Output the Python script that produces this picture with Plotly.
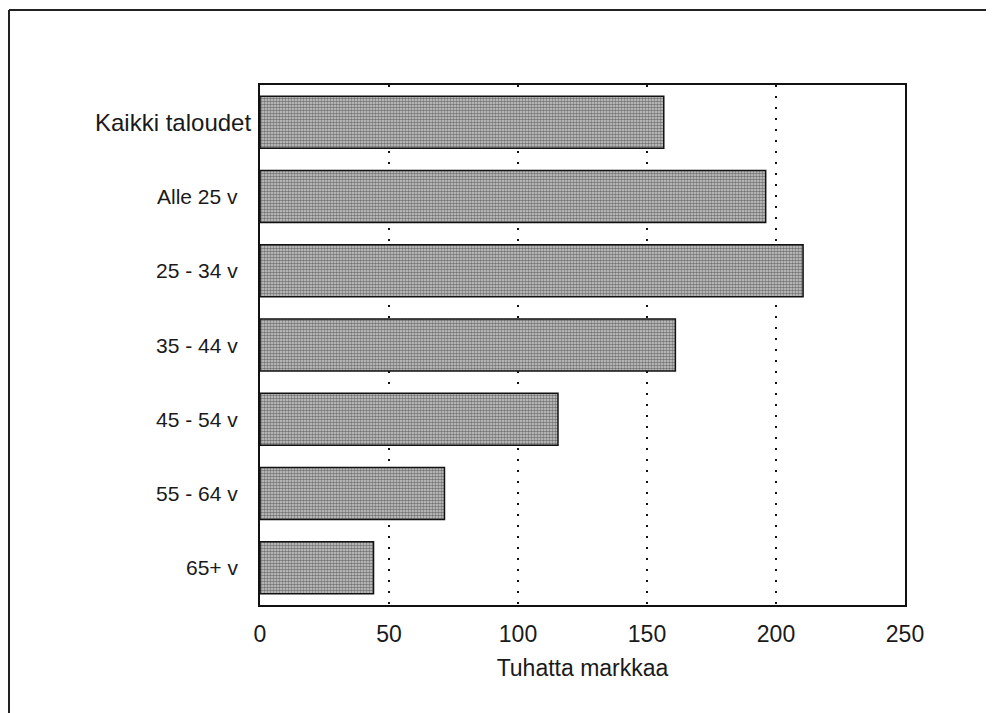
import plotly.graph_objects as go

categories = ["Kaikki taloudet", "Alle 25 v", "25 - 34 v", "35 - 44 v", "45 - 54 v", "55 - 64 v", "65+ v"]
values = [156.5, 196, 210.5, 161, 115.5, 71.5, 44]
x_ticks = [0, 50, 100, 150, 200, 250]
x_title = "Tuhatta markkaa"

# page body has an 8px margin, so the figure starts at (8, 8) in the window
W, H = 986, 705
L, R, T, B = 252, 89, 77, 108
pw, ph = W - L - R, H - T - B

FONT = "Liberation Sans, Arial, sans-serif"

fig = go.Figure()
fig.add_trace(go.Bar(
    y=categories, x=values, orientation="h", width=0.7,
    marker=dict(
        color="#c8c8c8",
        line=dict(color="#111", width=1.5),
        pattern=dict(shape=".", fgcolor="#1a1a1a", bgcolor="#cfcfcf", size=3, solidity=0.6),
    ),
    showlegend=False, hoverinfo="x+y",
))

# category labels as annotations (different gaps like the reference)
for i, c in enumerate(categories):
    big = (i == 0)
    fig.add_annotation(
        x=0, xref="paper", y=c, yref="y", text=c, showarrow=False,
        xanchor="right", yanchor="middle",
        xshift=-7 if big else -20,
        font=dict(family=FONT, size=24 if big else 21, color="#1a1a1a"),
    )

fig.update_xaxes(
    range=[0, 250], tickvals=x_ticks, ticktext=[str(v) for v in x_ticks],
    showgrid=True, gridcolor="#111", gridwidth=1.5, griddash="2px,9px",
    showline=True, mirror=True, linecolor="#111", linewidth=1.5,
    ticks="", ticklabelstandoff=8, zeroline=False,
    tickfont=dict(family=FONT, size=23, color="#1a1a1a"),
    title=dict(text=x_title, font=dict(family=FONT, size=23, color="#1a1a1a"), standoff=14),
)
fig.update_yaxes(
    categoryorder="array", categoryarray=categories, autorange="reversed",
    showticklabels=False, showgrid=False,
    showline=True, mirror=True, linecolor="#111", linewidth=1.5, ticks="",
)

# outer frame of the scanned page (left and top edges)
x_left = (1 - L) / pw
y_top = 1 + (T - 2) / ph
fig.add_shape(type="line", xref="paper", yref="paper", x0=x_left, x1=x_left,
              y0=y_top, y1=-0.3, line=dict(color="#222", width=2))
fig.add_shape(type="line", xref="paper", yref="paper", x0=x_left, x1=1.3,
              y0=y_top, y1=y_top, line=dict(color="#222", width=2))

fig.update_layout(
    width=W, height=H,
    margin=dict(l=L, r=R, t=T, b=B),
    paper_bgcolor="white", plot_bgcolor="white",
    font=dict(family=FONT, color="#1a1a1a"),
)

fig.write_html("out.html")
